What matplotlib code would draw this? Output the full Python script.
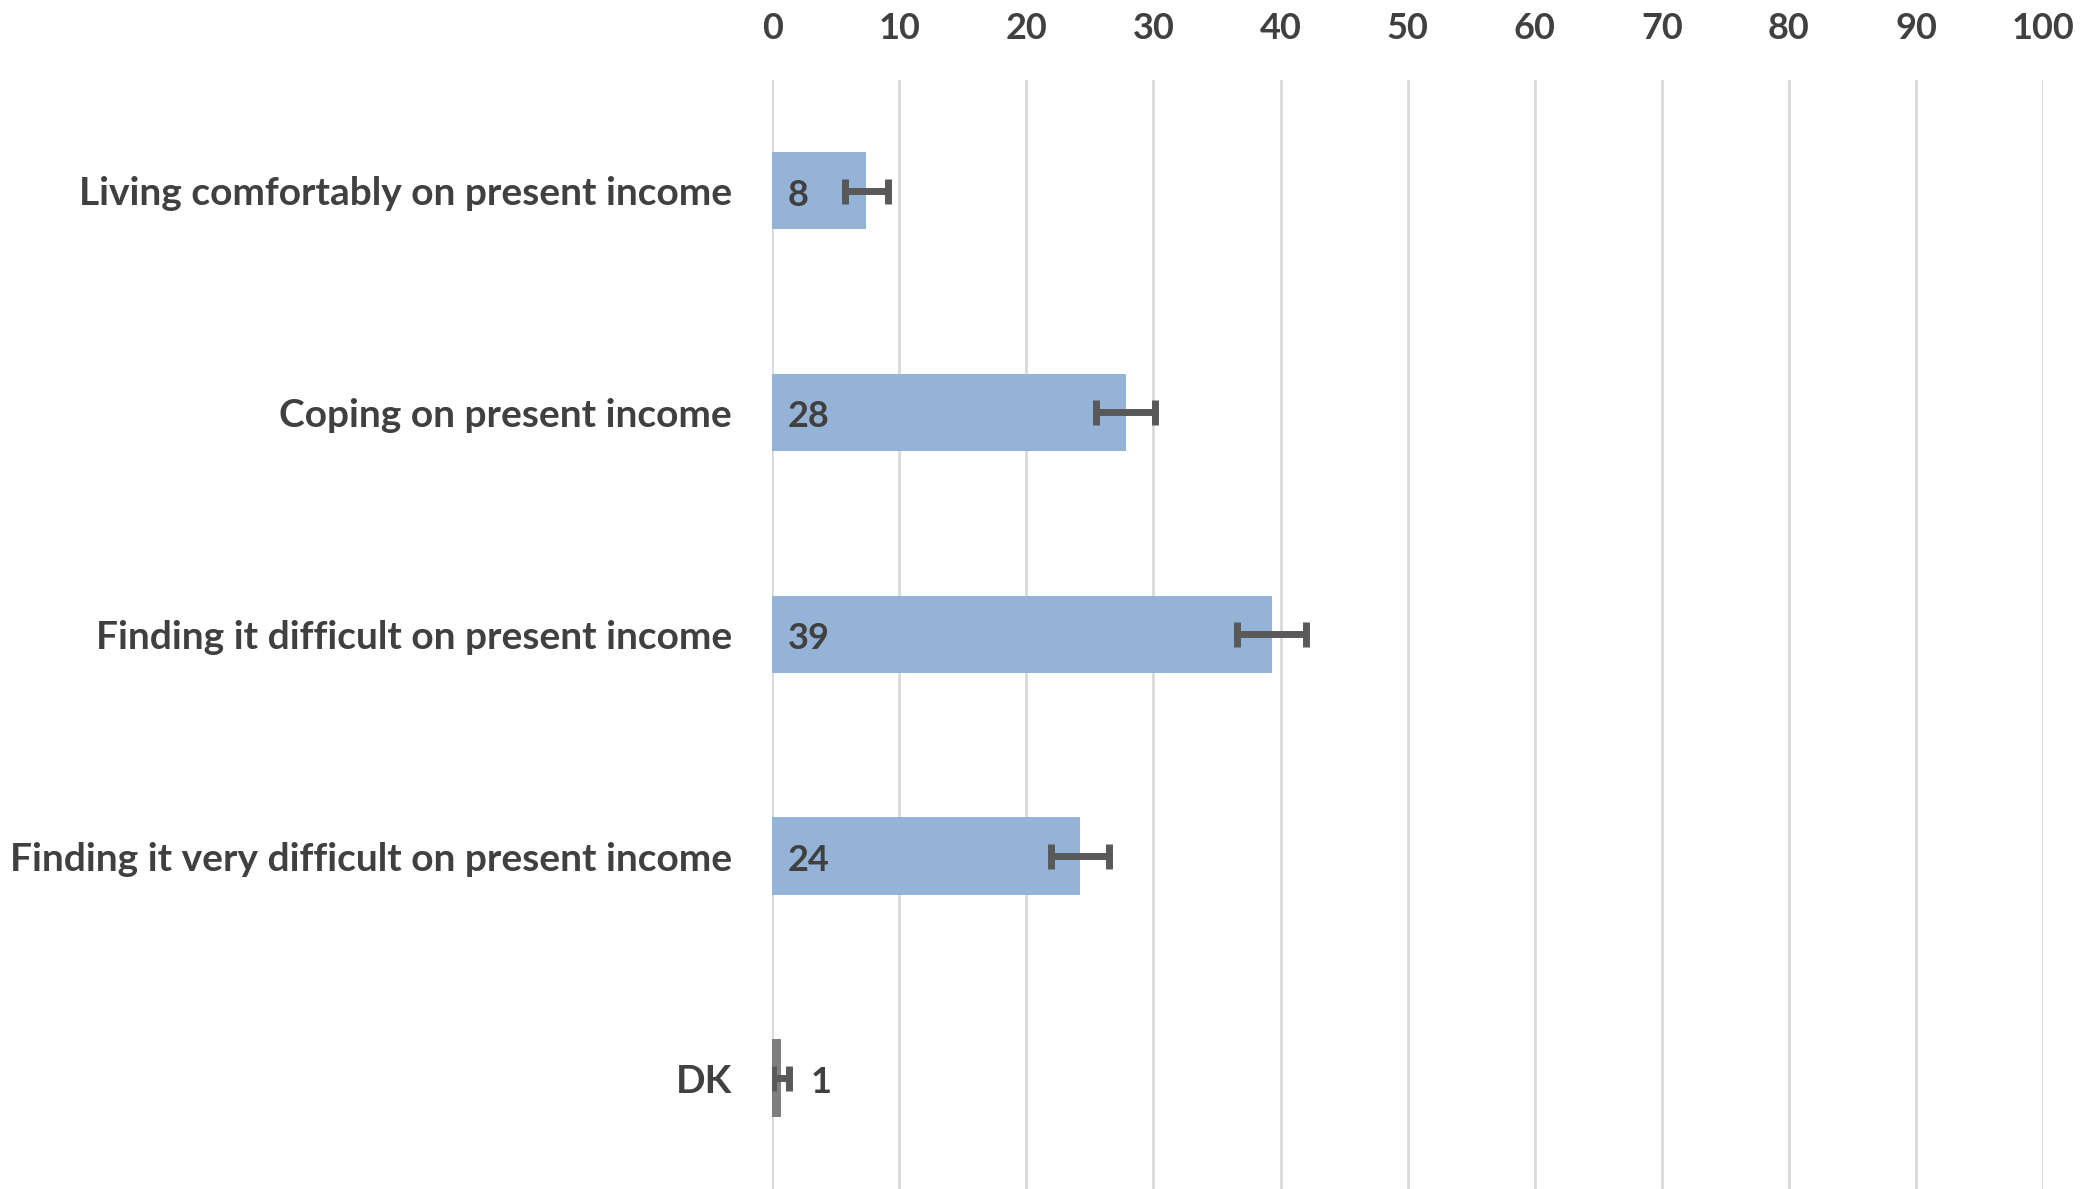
import numpy as np
import matplotlib.pyplot as plt

# data
categories = ['Living comfortably on present income',
              'Coping on present income',
              'Finding it difficult on present income',
              'Finding it very difficult on present income',
              'DK']
values = [7.4, 27.8, 39.3, 24.2, 0.7]
errors = [1.7, 2.3, 2.7, 2.3, 0.6]
labels = ['8', '28', '39', '24', '1']
bar_colors = ['#95b3d7', '#95b3d7', '#95b3d7', '#95b3d7', '#7f7f7f']
xticks = np.arange(0, 101, 10)

plt.rcParams['font.family'] = ['Lato', 'DejaVu Sans']
txt = '#404040'

fig = plt.figure(figsize=(20.87, 11.89), dpi=100)
ax = fig.add_axes([0.37, 0.0, 0.609, 0.933])

y = np.arange(len(categories))
ax.barh(y, values, height=0.35, color=bar_colors, zorder=2)
ax.errorbar(values, y, xerr=errors, fmt='none', ecolor='#595959',
            elinewidth=5, capsize=9, capthick=5, zorder=3)

for i, (v, lab) in enumerate(zip(values, labels)):
    if v > 3:
        ax.text(1.2, i + 0.02, lab, va='center', ha='left', fontsize=26,
                fontweight='bold', color=txt, zorder=4)
    else:
        ax.text(v + 2.3, i + 0.02, lab, va='center', ha='left', fontsize=26,
                fontweight='bold', color=txt, zorder=4)

ax.set_xlim(0, 100)
ax.set_ylim(len(categories) - 0.5, -0.5)
ax.set_xticks(xticks)
ax.xaxis.tick_top()
ax.set_yticks(y)
ax.set_yticklabels(categories)
ax.tick_params(axis='y', length=0, labelsize=28, labelcolor=txt, pad=29)
ax.tick_params(axis='x', length=0, labelsize=26, labelcolor=txt, pad=25)
for t in ax.get_xticklabels() + ax.get_yticklabels():
    t.set_fontweight('bold')
ax.grid(axis='x', color='#d9d9d9', linewidth=2, zorder=0)
for s in ax.spines.values():
    s.set_visible(False)

fig.savefig('out.png', dpi=100)
